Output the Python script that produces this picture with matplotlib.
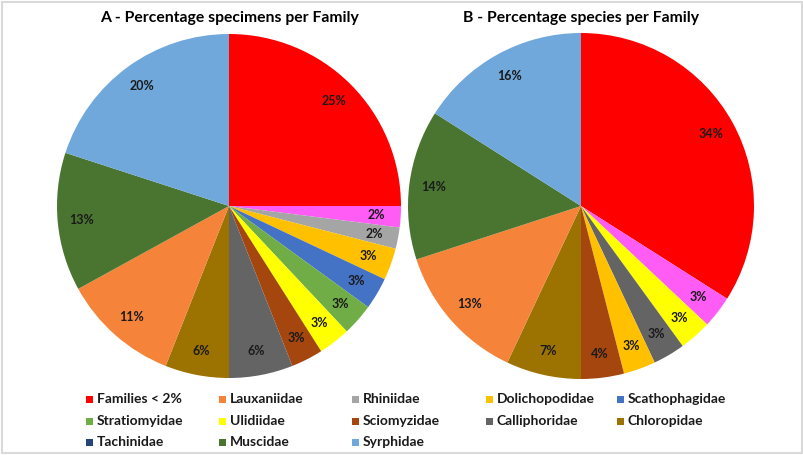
import matplotlib.pyplot as plt
from matplotlib.patches import Rectangle

plt.rcParams['font.family'] = ['Lato', 'DejaVu Sans']

# legend families and their colours
families = ['Families < 2%', 'Lauxaniidae', 'Rhiniidae', 'Dolichopodidae', 'Scathophagidae',
            'Stratiomyidae', 'Ulidiidae', 'Sciomyzidae', 'Calliphoridae', 'Chloropidae',
            'Tachinidae', 'Muscidae', 'Syrphidae']
fam_colors = ['#FF0000', '#F5843A', '#A5A5A5', '#FFC000', '#4472C4',
              '#70AD47', '#FFFF00', '#A5460F', '#646464', '#9C7300',
              '#264478', '#4A7530', '#70A8DC']
pink = '#FF5CF5'

# pie A: percentage specimens (clockwise from 12 o'clock)
a_slices = ['Families < 2%', 'pink', 'Rhiniidae', 'Dolichopodidae', 'Scathophagidae',
            'Stratiomyidae', 'Ulidiidae', 'Sciomyzidae', 'Calliphoridae', 'Chloropidae',
            'Lauxaniidae', 'Muscidae', 'Syrphidae']
a_values = [25, 2, 2, 3, 3, 3, 3, 3, 6, 6, 11, 13, 20]

# pie B: percentage species
b_slices = ['Families < 2%', 'pink', 'Ulidiidae', 'Calliphoridae', 'Dolichopodidae',
            'Sciomyzidae', 'Chloropidae', 'Lauxaniidae', 'Muscidae', 'Syrphidae']
b_values = [34, 3, 3, 3, 3, 4, 7, 13, 14, 16]

cmap = dict(zip(families, fam_colors))
cmap['pink'] = pink

W, H = 804, 455
fig = plt.figure(figsize=(W / 100, H / 100), dpi=100)
fig.patches.append(Rectangle((0.003, 0.005), 0.994, 0.99, transform=fig.transFigure,
                             fill=False, edgecolor='#d9d9d9', linewidth=1.5))


def draw_pie(cx, cy, r, slices, values, title):
    ax = fig.add_axes([(cx - r) / W, (H - cy - r) / H, 2 * r / W, 2 * r / H])
    ax.pie(values, colors=[cmap[s] for s in slices], startangle=90, counterclock=False,
           autopct=lambda p: f'{p:.0f}%', pctdistance=0.86,
           textprops=dict(fontsize=9, fontweight='bold', color='#1a1a1a'),
           wedgeprops=dict(linewidth=0))
    ax.set_xlim(-1, 1)
    ax.set_ylim(-1, 1)
    ax.set_aspect('equal')
    fig.text(cx / W, 1 - 18 / H, title, ha='center', va='center',
             fontsize=11.3, fontweight='bold')


draw_pie(229, 206, 172, a_slices, a_values, 'A - Percentage specimens per Family')
draw_pie(581, 206, 173, b_slices, b_values, 'B - Percentage species per Family')

# legend laid out row by row, 5 per row
col_x = [86, 219, 352, 486, 617]
row_y = [399, 421, 442]
for i, (name, col) in enumerate(zip(families, fam_colors)):
    x = col_x[i % 5]
    y = row_y[i // 5]
    fig.patches.append(Rectangle((x / W, (H - y - 3.5) / H), 7 / W, 7 / H,
                                 transform=fig.transFigure, facecolor=col, edgecolor='none'))
    fig.text((x + 11) / W, 1 - y / H, name, ha='left', va='center',
             fontsize=10, fontweight='bold', color='#1a1a1a')

fig.savefig('out.png', dpi=100, facecolor='white')
